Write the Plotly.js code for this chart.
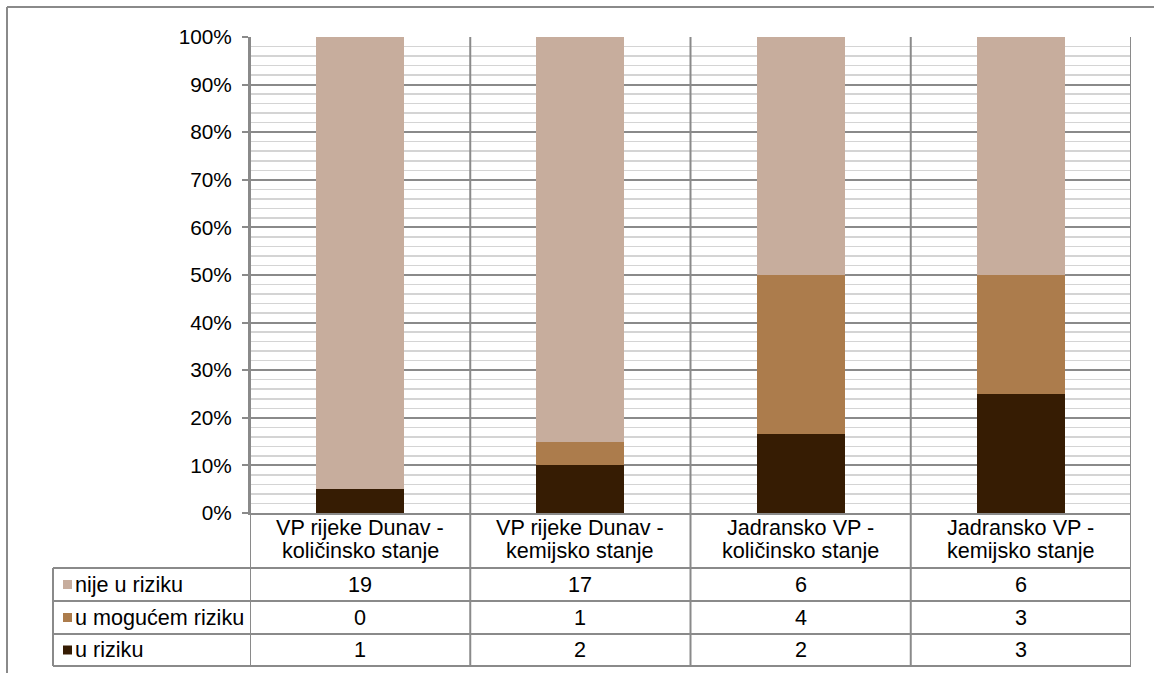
<!DOCTYPE html>
<html>
<head>
<meta charset="utf-8">
<script src="https://cdn.plot.ly/plotly-3.0.1.min.js"></script>
<style>html,body{margin:0;padding:0;background:#fff;}#chart{width:1154px;height:673px;}</style>
</head>
<body>
<div id="chart"></div>
<script>
// ---- data ----
const categories = ["VP rijeke Dunav -|količinsko stanje", "VP rijeke Dunav -|kemijsko stanje", "Jadransko VP -|količinsko stanje", "Jadransko VP -|kemijsko stanje"];
const seriesNames = ["nije u riziku", "u mogućem riziku", "u riziku"];
const nijeURiziku = [19, 17, 6, 6];
const uMogucemRiziku = [0, 1, 4, 3];
const uRiziku = [1, 2, 2, 3];
const seriesColors = ["#C7AD9D", "#AC7C4C", "#361C03"];

// ---- geometry helpers (pixels -> paper) ----
const W = 1154, H = 673;
const L = 250, R = 1131, T = 37, B = 513;
const px = p => (p - L) / (R - L);
const py = p => (B - p) / (B - T);
const FONT = "Liberation Sans, Arial, sans-serif";
const FS = 21.6;
const TFS = 20.8;
const LINE = "#8a8a8a";

const seriesValues = [nijeURiziku, uMogucemRiziku, uRiziku];
const xIdx = categories.map((c, i) => i);

const traces = [2, 1, 0].map(k => ({
  type: "bar",
  name: seriesNames[k],
  x: xIdx,
  y: seriesValues[k],
  marker: { color: seriesColors[k], line: { width: 0 } },
  hoverinfo: "skip"
}));

const shapes = [];
const annotations = [];

// outer frame (left and top)
shapes.push({ type: "line", xref: "paper", yref: "paper", x0: px(7), x1: px(W + 5), y0: py(7), y1: py(7), line: { color: LINE, width: 2 } });
shapes.push({ type: "line", xref: "paper", yref: "paper", x0: px(7), x1: px(7), y0: py(7), y1: py(H + 5), line: { color: LINE, width: 2 } });

// table geometry
const rowLines = [568, 601, 634, 666];
const tableLeft = 53;
// vertical category boundaries (through plot and table)
for (let i = 0; i <= categories.length; i++) {
  shapes.push({ type: "line", xref: "x", yref: "paper", x0: i - 0.5, x1: i - 0.5, y0: 1, y1: py(666), line: { color: LINE, width: 2 }, layer: "above" });
}
// left border of label column
shapes.push({ type: "line", xref: "paper", yref: "paper", x0: px(tableLeft), x1: px(tableLeft), y0: py(568), y1: py(666), line: { color: LINE, width: 2 } });
// horizontal table lines
rowLines.forEach(y => {
  shapes.push({ type: "line", xref: "paper", yref: "paper", x0: px(tableLeft), x1: 1, y0: py(y), y1: py(y), line: { color: LINE, width: 2 } });
});

// category header labels (two lines each)
categories.forEach((c, i) => {
  const parts = c.split("|");
  const ys = [527, 550];
  parts.forEach((t, j) => {
    annotations.push({ xref: "x", yref: "paper", x: i, y: py(ys[j]), text: t, showarrow: false, xanchor: "center", yanchor: "middle", font: { family: FONT, size: FS, color: "#000" } });
  });
});

// table rows
const rowCenters = [584.5, 617.5, 650];
seriesNames.forEach((name, r) => {
  const yc = rowCenters[r];
  shapes.push({ type: "rect", xref: "paper", yref: "paper", x0: px(63), x1: px(72), y0: py(yc - 4.5), y1: py(yc + 4.5), fillcolor: seriesColors[r], line: { width: 0 } });
  annotations.push({ xref: "paper", yref: "paper", x: px(73), y: py(yc), text: name, showarrow: false, xanchor: "left", yanchor: "middle", font: { family: FONT, size: FS, color: "#000" } });
  seriesValues[r].forEach((v, i) => {
    annotations.push({ xref: "x", yref: "paper", x: i, y: py(yc), text: String(v), showarrow: false, xanchor: "center", yanchor: "middle", font: { family: FONT, size: FS, color: "#000" } });
  });
});

const layout = {
  width: W, height: H,
  margin: { l: L, r: W - R, t: T, b: H - B, pad: 0 },
  paper_bgcolor: "#fff", plot_bgcolor: "#fff",
  barmode: "stack", barnorm: "percent", bargap: 0.6,
  showlegend: false,
  font: { family: FONT, size: FS, color: "#000" },
  xaxis: { range: [-0.5, categories.length - 0.5], showticklabels: false, ticks: "", showgrid: false, zeroline: false, showline: true, linecolor: LINE, linewidth: 2, fixedrange: true },
  yaxis: {
    range: [0, 100], dtick: 10, tick0: 0, ticksuffix: "%",
    ticks: "outside", ticklen: 6, tickcolor: LINE, tickwidth: 2,
    showgrid: true, gridcolor: LINE, gridwidth: 2,
    minor: { dtick: 2, showgrid: true, gridcolor: "#d4d4d4", gridwidth: 1.5, ticks: "" },
    zeroline: false, showline: true, linecolor: LINE, linewidth: 2,
    tickfont: { family: FONT, size: TFS, color: "#000" }, ticklabelstandoff: 6, fixedrange: true
  },
  shapes: shapes,
  annotations: annotations
};

Plotly.newPlot("chart", traces, layout, { staticPlot: true, displayModeBar: false });
</script>
</body>
</html>
